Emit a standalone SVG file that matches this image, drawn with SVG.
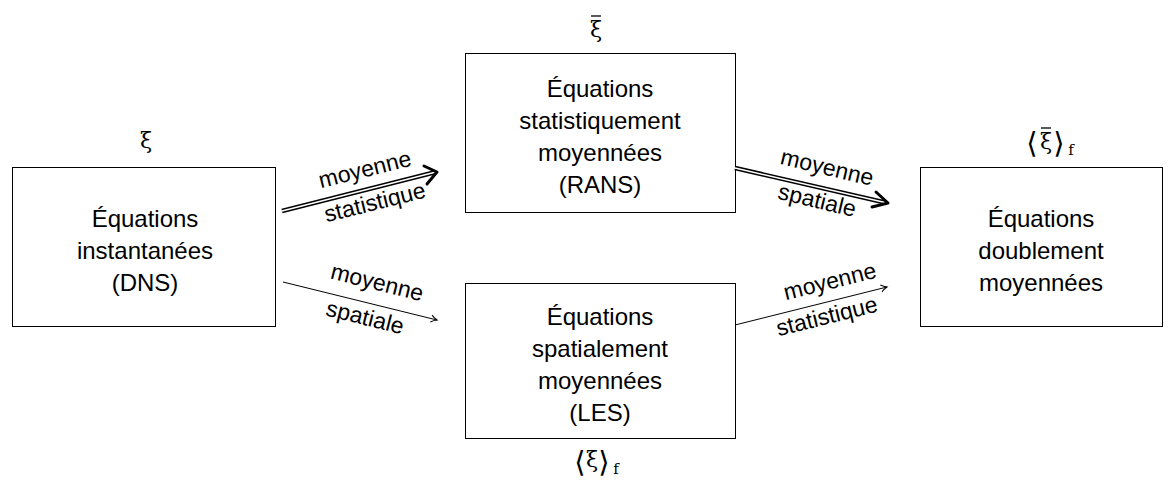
<svg xmlns="http://www.w3.org/2000/svg" width="1173" height="484" viewBox="0 0 1173 484">
<style>
.box{fill:#fff;stroke:#000;stroke-width:1}
.t{font-family:"Liberation Sans",Arial,sans-serif;font-size:24px;fill:#000;text-anchor:middle}
.a{font-family:"Liberation Sans",Arial,sans-serif;font-size:23px;fill:#000;text-anchor:middle}
.m{font-family:"DejaVu Serif","Liberation Serif",serif;font-size:22px;fill:#000;text-anchor:middle}
.br{font-family:"DejaVu Sans",sans-serif;font-size:29px;fill:#000;text-anchor:middle}
.sub{font-family:"DejaVu Serif",serif;font-size:15px;fill:#000;text-anchor:middle}
.bar{stroke:#000;stroke-width:1.3}
.thin{stroke:#000;stroke-width:1;fill:none}
.dbl{stroke:#000;stroke-width:4.5;fill:none}
.dblw{stroke:#fff;stroke-width:1.5;fill:none}
.head{stroke:#000;stroke-width:3;fill:none;stroke-linecap:round;stroke-linejoin:round}
</style>
<defs>
<marker id="ah" markerWidth="10" markerHeight="10" refX="8" refY="5" orient="auto" markerUnits="userSpaceOnUse">
<path d="M2,1.5 Q5,4 8,5 Q5,6 2,8.5" fill="none" stroke="#000" stroke-width="1"/>
</marker>
</defs>
<g id="n1"><rect class="box" x="12.5" y="167.5" width="263" height="159"/>
<text class="t" x="145" y="227">Équations</text><text class="t" x="145" y="259">instantanées</text><text class="t" x="145" y="291">(DNS)</text>
<text class="m" x="146" y="148">ξ</text></g>
<g id="n2"><rect class="box" x="465.5" y="53.5" width="270" height="159"/>
<text class="t" x="600" y="97">Équations</text><text class="t" x="600" y="129">statistiquement</text><text class="t" x="600" y="161">moyennées</text><text class="t" x="600" y="193">(RANS)</text>
<text class="m" x="596" y="37">ξ</text><line class="bar" x1="591" y1="16" x2="601" y2="16"/></g>
<g id="n3"><rect class="box" x="465.5" y="283.5" width="270" height="155"/>
<text class="t" x="600" y="325">Équations</text><text class="t" x="600" y="357">spatialement</text><text class="t" x="600" y="389">moyennées</text><text class="t" x="600" y="421">(LES)</text>
<text class="br" x="580" y="472">⟨</text><text class="m" x="592" y="467">ξ</text><text class="br" x="604" y="472">⟩</text><text class="sub" x="616" y="474">f</text></g>
<g id="n4"><rect class="box" x="920.5" y="167.5" width="242" height="159"/>
<text class="t" x="1041" y="227">Équations</text><text class="t" x="1041" y="259">doublement</text><text class="t" x="1041" y="291">moyennées</text>
<text class="br" x="1032" y="153">⟨</text><text class="m" x="1046" y="149">ξ</text><line class="bar" x1="1041" y1="128" x2="1051" y2="128"/><text class="br" x="1059" y="153">⟩</text><text class="sub" x="1071" y="155">f</text></g>
<g id="connectors">
<line class="dbl" x1="282" y1="211" x2="434" y2="172.5"/><line class="dblw" x1="282" y1="211" x2="434" y2="172.5"/>
<path class="head" d="M424,166 L437,172 L427,184"/>
<line class="dbl" x1="735" y1="168" x2="885" y2="202.5"/><line class="dblw" x1="735" y1="168" x2="885" y2="202.5"/>
<path class="head" d="M876,192 L888,203 L872,207"/>
<line class="thin" x1="283" y1="282" x2="437" y2="320" marker-end="url(#ah)"/>
<line class="thin" x1="735" y1="325" x2="887" y2="287" marker-end="url(#ah)"/>
<text class="a" transform="translate(365,170) rotate(-14)" y="7">moyenne</text>
<text class="a" transform="translate(375,203) rotate(-14)" y="7">statistique</text>
<text class="a" transform="translate(827,168) rotate(13.5)" y="7">moyenne</text>
<text class="a" transform="translate(817,201) rotate(13.5)" y="7">spatiale</text>
<text class="a" transform="translate(377,283) rotate(14)" y="7">moyenne</text>
<text class="a" transform="translate(365,318) rotate(14)" y="7">spatiale</text>
<text class="a" transform="translate(830,282) rotate(-14)" y="7">moyenne</text>
<text class="a" transform="translate(827,317) rotate(-14)" y="7">statistique</text>
</g>
</svg>
